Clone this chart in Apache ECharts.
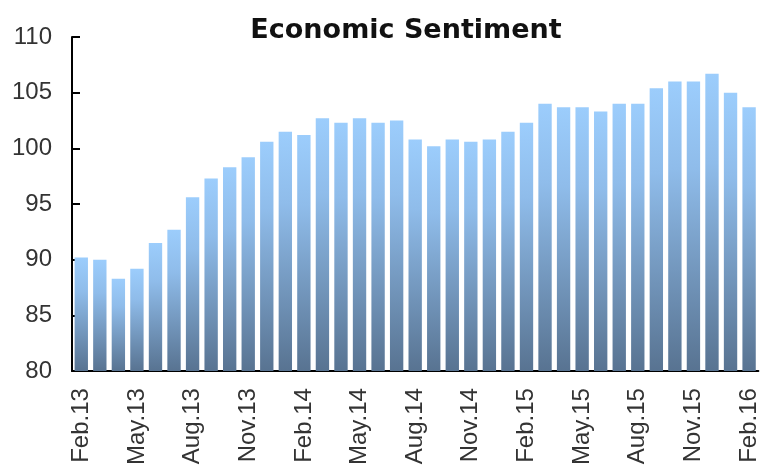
<!DOCTYPE html>
<html>
<head>
<meta charset="utf-8">
<script src="https://cdn.jsdelivr.net/npm/echarts@6/dist/echarts.min.js"></script>
<style>html,body{margin:0;padding:0;background:#fff}#c{width:761px;height:468px}</style>
</head>
<body>
<div id="c"></div>
<script>
const months = ["Feb.13","Mar.13","Apr.13","May.13","Jun.13","Jul.13","Aug.13","Sep.13","Oct.13","Nov.13","Dec.13","Jan.14",
"Feb.14","Mar.14","Apr.14","May.14","Jun.14","Jul.14","Aug.14","Sep.14","Oct.14","Nov.14","Dec.14","Jan.15",
"Feb.15","Mar.15","Apr.15","May.15","Jun.15","Jul.15","Aug.15","Sep.15","Oct.15","Nov.15","Dec.15","Jan.16","Feb.16"];
const sentiment = [90.2,90.0,88.3,89.2,91.5,92.7,95.6,97.3,98.3,99.2,100.6,101.5,
101.2,102.7,102.3,102.7,102.3,102.5,100.8,100.2,100.8,100.6,100.8,101.5,
102.3,104.0,103.7,103.7,103.3,104.0,104.0,105.4,106.0,106.0,106.7,105.0,103.7];
const yTicks = [80,85,90,95,100,105,110];

const chart = echarts.init(document.getElementById('c'), null, {renderer:'canvas'});
chart.setOption({
  animation:false,
  backgroundColor:'#fff',
  title:{text:'Economic Sentiment',left:401,textAlign:'center',top:12,
    textStyle:{fontFamily:'DejaVu Sans',fontWeight:'bold',fontSize:27,color:'#111'}},
  grid:{left:72,top:37,width:693,bottom:96,containLabel:false},
  xAxis:{type:'category',data:months,
    axisLine:{lineStyle:{color:'#000',width:2}},
    axisTick:{show:false},
    axisLabel:{interval:2,rotate:90,margin:17,fontFamily:'Liberation Sans',fontSize:24,color:'#333'}},
  yAxis:{type:'value',min:yTicks[0],max:yTicks[yTicks.length-1],interval:5,
    axisLine:{show:true,lineStyle:{color:'#000',width:2}},
    axisTick:{show:true,inside:true,length:8,lineStyle:{color:'#000',width:2}},
    splitLine:{show:false},
    axisLabel:{margin:20,fontFamily:'Liberation Sans',fontSize:24,color:'#333'}},
  series:[{type:'bar',data:sentiment,barCategoryGap:'28%',
    itemStyle:{color:new echarts.graphic.LinearGradient(0,0,0,1,[
      {offset:0,color:'#9ccdfc'},{offset:0.3,color:'#8fbcea'},{offset:1,color:'#587391'}])}}]
});
</script>
</body>
</html>
